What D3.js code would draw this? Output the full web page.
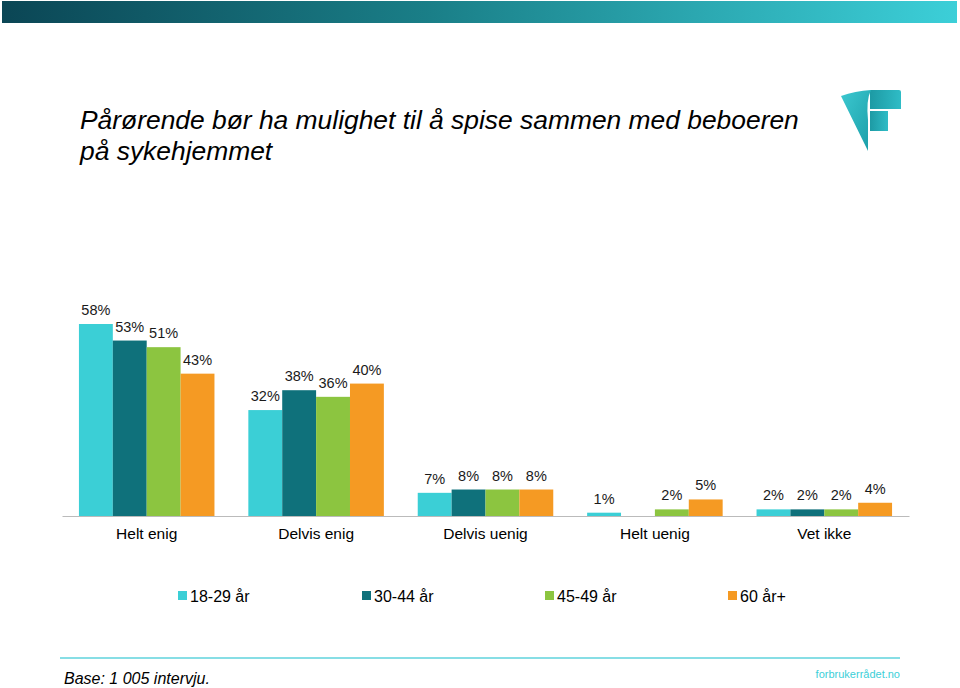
<!DOCTYPE html>
<html><head><meta charset="utf-8">
<script src="https://cdn.jsdelivr.net/npm/d3@7"></script>
<style>body{margin:0;background:#fff}svg{display:block}</style>
</head><body>
<script>
const categories = ["Helt enig", "Delvis enig", "Delvis uenig", "Helt uenig", "Vet ikke"];
const seriesNames = ["18-29 år", "30-44 år", "45-49 år", "60 år+"];
const s1829 = [58, 32, 7, 1, 2];
const s3044 = [53, 38, 8, 0, 2];
const s4549 = [51, 36, 8, 2, 2];
const s60 = [43, 40, 8, 5, 4];
const seriesColors = ["#3bcfd6", "#0f717b", "#8cc540", "#f59a23"];
const titleLines = ["Pårørende bør ha mulighet til å spise sammen med beboeren", "på sykehjemmet"];
const baseText = "Base: 1 005 intervju.";
const sourceText = "forbrukerrådet.no";

const series = [s1829, s3044, s4549, s60];
const W = 960, H = 688;
const svg = d3.select("body").append("svg").attr("width", W).attr("height", H)
  .style("font-family", "'Liberation Sans', Arial, sans-serif");

const defs = svg.append("defs");
const g1 = defs.append("linearGradient").attr("id", "topg");
g1.append("stop").attr("offset", "0%").attr("stop-color", "#0b4655");
g1.append("stop").attr("offset", "45%").attr("stop-color", "#1a7f88");
g1.append("stop").attr("offset", "100%").attr("stop-color", "#3ccfd8");
svg.append("rect").attr("x", 2).attr("y", 1).attr("width", 955).attr("height", 22).attr("fill", "url(#topg)");

// logo
const lg = defs.append("linearGradient").attr("id", "logog").attr("x1", "0").attr("y1", "0").attr("x2", "1").attr("y2", "1");
lg.append("stop").attr("offset", "0%").attr("stop-color", "#3cc8d0");
lg.append("stop").attr("offset", "100%").attr("stop-color", "#1a9ea8");
const lg2 = defs.append("linearGradient").attr("id", "logog2").attr("x1", "0").attr("y1", "0").attr("x2", "1").attr("y2", "0");
lg2.append("stop").attr("offset", "0%").attr("stop-color", "#1d9aa4");
lg2.append("stop").attr("offset", "100%").attr("stop-color", "#2fbcc6");
const logo = svg.append("g");
logo.append("path").attr("d", "M870,90 L899,90 Q901,90 901,92 L901,109 L870,109 Z").attr("fill", "url(#logog2)");
logo.append("path").attr("d", "M870,111 L888,111 L888,131 L870,131 Z").attr("fill", "url(#logog2)");
logo.append("path").attr("d", "M841,96 Q855,91 871,90 Q866,100 868,120 L868,151 Z").attr("fill", "url(#logog)");

// title
const t = svg.append("text").attr("x", 80).attr("y", 129).attr("font-size", 26.4).attr("font-style", "italic").attr("fill", "#000");
titleLines.forEach((l, i) => t.append("tspan").attr("x", 80).attr("dy", i ? 31 : 0).text(l));

const x0 = d3.scaleBand().domain(categories).range([62, 909]).paddingInner(0.2).paddingOuter(0.1);
const x1 = d3.scaleBand().domain(seriesNames).range([0, x0.bandwidth()]);
const y = d3.scaleLinear().domain([0, 58]).range([516, 324]);

const groups = svg.append("g").selectAll("g").data(categories).join("g")
  .attr("transform", d => `translate(${x0(d)},0)`);
groups.each(function(cat, ci) {
  const g = d3.select(this);
  seriesNames.forEach((s, si) => {
    const v = series[si][ci];
    if (v > 0) {
      g.append("rect").attr("x", x1(s)).attr("y", y(v)).attr("width", x1.bandwidth()).attr("height", 516 - y(v)).attr("fill", seriesColors[si]);
      g.append("text").attr("x", x1(s) + x1.bandwidth() / 2).attr("y", y(v) - 9).attr("text-anchor", "middle")
        .attr("font-size", 14.5).attr("fill", "#1a1a1a").text(v + "%");
    }
  });
});

// axis
const xAxis = d3.axisBottom(x0).tickSize(0).tickPadding(12);
const ax = svg.append("g").attr("transform", "translate(0,516)").call(xAxis);
ax.select(".domain").attr("stroke", "#bbb").attr("stroke-width", 1.2);
ax.selectAll("text").attr("font-size", 15.5).attr("fill", "#000").attr("font-family", "'Liberation Sans', Arial, sans-serif");

// legend
const legX = [178, 362, 545, 728];
const leg = svg.append("g");
seriesNames.forEach((s, i) => {
  leg.append("rect").attr("x", legX[i]).attr("y", 591).attr("width", 9).attr("height", 9).attr("fill", seriesColors[i]);
  leg.append("text").attr("x", legX[i] + 12).attr("y", 601.5).attr("font-size", 16).attr("fill", "#000").text(s);
});

// footer
svg.append("line").attr("x1", 60).attr("x2", 900).attr("y1", 658).attr("y2", 658).attr("stroke", "#5fd3dc").attr("stroke-width", 1.5);
svg.append("text").attr("x", 64).attr("y", 684).attr("font-size", 16).attr("font-style", "italic").attr("fill", "#000").text(baseText);
svg.append("text").attr("x", 900).attr("y", 678).attr("text-anchor", "end").attr("font-size", 11).attr("fill", "#3ccfd8")
  .attr("font-family", "'Liberation Sans Narrow', 'Liberation Sans', sans-serif").text(sourceText);
</script>
</body></html>
